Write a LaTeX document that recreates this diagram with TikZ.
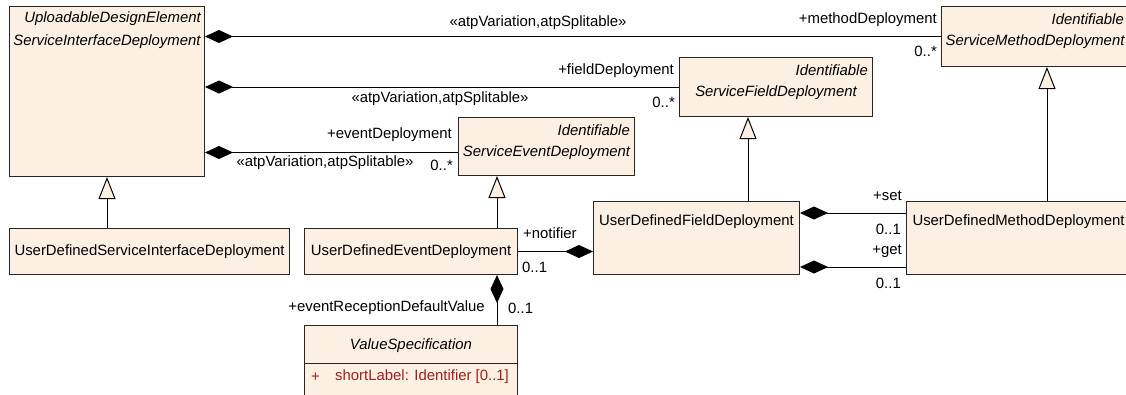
\documentclass[tikz,border=0pt]{standalone}
\usepackage{fontspec}
\setmainfont{Liberation Sans}
\usetikzlibrary{arrows.meta,positioning,calc}
\definecolor{classfill}{RGB}{251,240,226}
\definecolor{attrred}{RGB}{163,30,30}
\newcommand{\umlsize}{\fontsize{14.9}{17}\selectfont}
\tikzset{
  classbox/.style={draw=black!85, fill=classfill, line width=1pt,
    anchor=north west, inner sep=0pt},
  stereo/.style={font=\umlsize\itshape, anchor=east, inner sep=0pt},
  cname/.style={font=\umlsize\itshape, inner sep=0pt},
  uname/.style={inner sep=0pt},
  role/.style={inner sep=0pt},
  comp/.style={line width=1pt, {Diamond[length=28pt,width=13pt]}-},
  gen/.style={line width=1pt, -{Triangle[length=22pt,width=17pt,fill=classfill]}},
}

\begin{document}
\begin{tikzpicture}[x=1pt, y=-1pt, font=\umlsize]
  \clip (0,0) rectangle (1126,394);

  % Abstract classes
  \node[classbox, minimum width=195pt, minimum height=170pt] (sid) at (9,6) {};
  \node[stereo] (sidst) at ($(sid.north east)+(-4,13)$) {UploadableDesignElement};
  \node[cname] (sidname) at ($(sid.north)+(0,36)$) {ServiceInterfaceDeployment};

  \node[classbox, minimum width=187pt, minimum height=60pt] (smd) at (941,6) {};
  \node[stereo] (smdst) at ($(smd.north east)+(-5,13)$) {Identifiable};
  \node[cname] (smdname) at ($(smd.north)+(0,36)$) {ServiceMethodDeployment};

  \node[classbox, minimum width=193pt, minimum height=59pt] (sfd) at (679,57) {};
  \node[stereo] (sfdst) at ($(sfd.north east)+(-5,13)$) {Identifiable};
  \node[cname] (sfdname) at ($(sfd.north)+(0,36)$) {ServiceFieldDeployment};

  \node[classbox, minimum width=176pt, minimum height=58pt] (sed) at (458,117) {};
  \node[stereo] (sedst) at ($(sed.north east)+(-5,13)$) {Identifiable};
  \node[cname] (sedname) at ($(sed.north)+(0,36)$) {ServiceEventDeployment};

  % Concrete classes
  \node[classbox, minimum width=280pt, minimum height=46pt] (udsid) at (9,228)
    {UserDefinedServiceInterfaceDeployment};
  \node[classbox, minimum width=213pt, minimum height=46pt] (uded) at (304,228)
    {UserDefinedEventDeployment};
  \node[classbox, minimum width=206pt, minimum height=73pt] (udfd) at (593,201) {};
  \node[uname] (udfdname) at ($(udfd.north)+(0,21)$) {UserDefinedFieldDeployment};
  \node[classbox, minimum width=224pt, minimum height=73pt] (udmd) at (906,201) {};
  \node[uname] (udmdname) at ($(udmd.north)+(0,21)$) {UserDefinedMethodDeployment};

  \node[classbox, minimum width=213pt, minimum height=80pt] (vs) at (304,325) {};
  \node[cname] (vsname) at ($(vs.north)+(0,21)$) {ValueSpecification};
  \draw[line width=1pt, black!85] ($(vs.north west)+(0,38)$) -- ($(vs.north east)+(0,38)$);
  \node[role, anchor=west, text=attrred] (vsvis) at ($(vs.north west)+(7,52)$) {+};
  \node[role, anchor=west, text=attrred] (vsattr) at ($(vs.north west)+(31,52)$)
    {shortLabel: Identifier [0..1]};

  % Generalizations
  \coordinate (edgen) at ($(uded.north east)+(-21,0)$);
  \coordinate (fdgen) at ($(udfd.north east)+(-52,0)$);
  \coordinate (mdgen) at ($(udmd.north west)+(141,0)$);
  \draw[gen] (udsid.north -| sid.south) -- (sid.south);
  \draw[gen] (edgen) -- (edgen |- sed.south);
  \draw[gen] (fdgen) -- (fdgen |- sfd.south);
  \draw[gen] (mdgen) -- (mdgen |- smd.south);

  % Compositions from the interface deployment
  \coordinate (evline) at ($(sed.west)+(0,6)$);
  \draw[comp] (sid.east |- smd.west) -- (smd.west);
  \draw[comp] (sid.east |- sfd.west) -- (sfd.west);
  \draw[comp] (sid.east |- evline) -- (evline);

  \node[role] (st1) at (538,23) {«atpVariation,atpSplitable»};
  \node[role, anchor=east] (mdrole) at ($(smd.west)+(-4,-17)$) {+methodDeployment};
  \node[role, anchor=east] (mdmult) at ($(smd.west)+(-4,15)$) {0..*};
  \node[role] (st2) at (440,99) {«atpVariation,atpSplitable»};
  \node[role, anchor=east] (fdrole) at ($(sfd.west)+(-5,-16)$) {+fieldDeployment};
  \node[role, anchor=east] (fdmult) at ($(sfd.west)+(-4,15)$) {0..*};
  \node[role] (st3) at (325,163) {«atpVariation,atpSplitable»};
  \node[role, anchor=east] (edrole) at ($(evline)+(-6,-18)$) {+eventDeployment};
  \node[role, anchor=east] (edmult) at ($(evline)+(-5,13)$) {0..*};

  % Compositions among the user defined deployments
  \coordinate (setln) at ($(udfd.north east)+(0,12)$);
  \coordinate (getln) at ($(udfd.south east)+(0,-8)$);
  \coordinate (evrec) at ($(uded.south east)+(-21,0)$);
  \draw[comp] (udfd.west |- uded.east) -- (uded.east);
  \draw[comp] (setln) -- (setln -| udmd.west);
  \draw[comp] (getln) -- (getln -| udmd.west);
  \draw[comp] (evrec) -- (evrec |- vs.north);

  \node[role, anchor=west] (ntrole) at ($(uded.east)+(5,-18)$) {+notifier};
  \node[role, anchor=west] (ntmult) at ($(uded.east)+(4,16)$) {0..1};
  \node[role, anchor=east] (setrole) at ($(setln -| udmd.west)+(-4,-17)$) {+set};
  \node[role, anchor=east] (setmult) at ($(setln -| udmd.west)+(-5,16)$) {0..1};
  \node[role, anchor=east] (getrole) at ($(getln -| udmd.west)+(-4,-16)$) {+get};
  \node[role, anchor=east] (getmult) at ($(getln -| udmd.west)+(-5,16)$) {0..1};
  \node[role, anchor=east] (evrole) at ($(evrec |- vs.north)+(-12,-17)$) {+eventReceptionDefaultValue};
  \node[role, anchor=west] (evmult) at ($(evrec |- vs.north)+(11,-17)$) {0..1};
\end{tikzpicture}
\end{document}
